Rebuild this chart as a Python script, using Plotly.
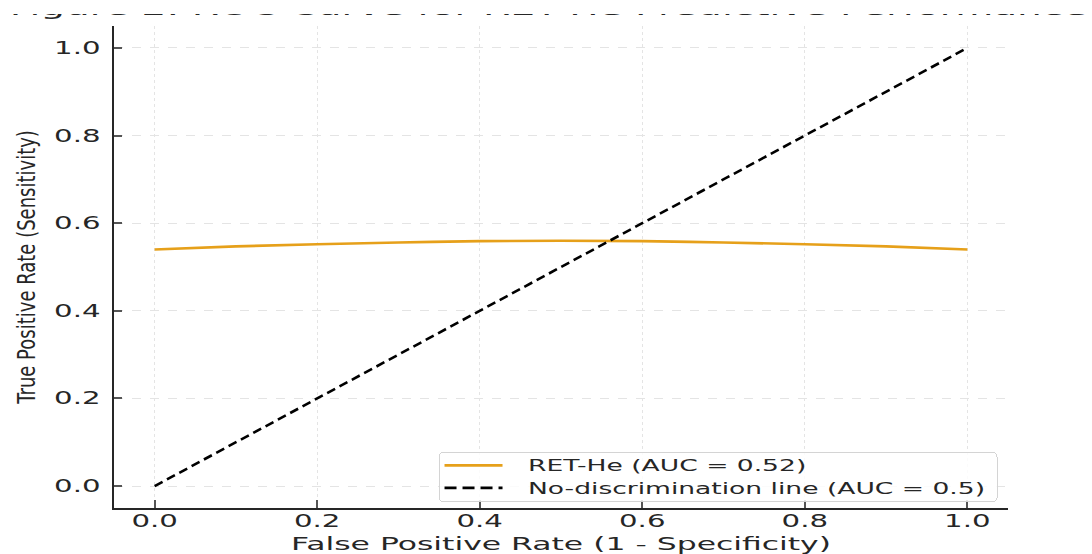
import plotly.graph_objects as go

# ---- data ----
fpr_ret = [0.0, 0.1, 0.2, 0.3, 0.4, 0.5, 0.6, 0.7, 0.8, 0.9, 1.0]
tpr_ret = [0.540, 0.547, 0.552, 0.556, 0.559, 0.560, 0.559, 0.556, 0.552, 0.547, 0.540]
ref_x = [0.0, 1.0]
ref_y = [0.0, 1.0]
tick_vals = [0.0, 0.2, 0.4, 0.6, 0.8, 1.0]
tick_text = ["0.0", "0.2", "0.4", "0.6", "0.8", "1.0"]
ret_label = "RET-He (AUC = 0.52)"
ref_label = "No-discrimination line (AUC = 0.5)"
title_text = "Figure 2: ROC Curve for RET-He Predictive Performance"
x_title = "False Positive Rate (1 - Specificity)"
y_title = "True Positive Rate (Sensitivity)"

FONT = "DejaVu Sans"
DARK = "#262626"

fig = go.Figure()
fig.add_trace(go.Scatter(x=fpr_ret, y=tpr_ret, mode="lines", name=ret_label,
                         line=dict(color="#E6A01A", width=2.6, shape="spline")))
fig.add_trace(go.Scatter(x=ref_x, y=ref_y, mode="lines", name=ref_label,
                         line=dict(color="black", width=2.6, dash="9px,5px")))

axis_common = dict(
    range=[-0.05, 1.05], tickvals=tick_vals, ticktext=tick_text,
    showline=True, linecolor=DARK, linewidth=2, mirror=False,
    ticks="inside", ticklen=8, tickwidth=1.5, tickcolor="#555555",
    showgrid=True, gridcolor="#e4e4e4", gridwidth=1, automargin=False,
    zeroline=False, tickfont=dict(family=FONT, size=17, color=DARK),
)

fig.update_layout(
    width=1092, height=554,
    margin=dict(l=114, r=84, t=26, b=46),
    plot_bgcolor="white", paper_bgcolor="white",
    font=dict(family=FONT, color=DARK),
    xaxis=dict(**axis_common, griddash="dot", ticklabelstandoff=-3,
               title=dict(text=x_title, font=dict(family=FONT, size=17, color=DARK), standoff=9)),
    yaxis=dict(**axis_common, griddash="dash", ticklabelstandoff=8,
               title=dict(text=y_title, font=dict(family=FONT, size=18, color=DARK), standoff=36)),
    legend=dict(x=0.363, y=0.006, xanchor="left", yanchor="bottom",
                bgcolor="rgba(255,255,255,0.85)", bordercolor="#d4d4d4", borderwidth=1,
                font=dict(family=FONT, size=15, color=DARK), tracegroupgap=0),
    annotations=[
        dict(text=title_text, xref="paper", yref="paper", x=(548 - 114) / 894, y=1.0083,
             xanchor="center", yanchor="bottom", showarrow=False,
             font=dict(family=FONT, size=22, color=DARK)),
    ],
)

post = r"""
(function(){
  document.body.style.margin = '0';
  var gd = document.getElementById('{plot_id}');
  var q = function(s, root){ return Array.prototype.slice.call((root || gd).querySelectorAll(s)); };
  function stretchOne(t, sx, sy, anchor){
    var b; try { b = t.getBBox(); } catch(e) { return; }
    var a = anchor || t.getAttribute('text-anchor') || 'middle';
    var cx = a === 'start' ? b.x : (a === 'end' ? b.x + b.width : b.x + b.width / 2);
    var cy = b.y + b.height / 2;
    var tr = t.getAttribute('transform') || '';
    t.setAttribute('transform', tr + ' translate(' + cx + ',' + cy + ') scale(' + sx + ',' + sy + ') translate(' + (-cx) + ',' + (-cy) + ')');
  }
  function stretch(nodes, sx, sy){ nodes.forEach(function(t){ stretchOne(t, sx, sy); }); }
  try {
    stretch(q('.xtick text'), 1.72, 1);
    stretch(q('.ytick text'), 1.72, 1);
    stretch(q('.g-xtitle text'), 1.85, 1);
    stretch(q('.g-ytitle text'), 1, 1.35);
  } catch(e) {}

  // title: stretch to the reference width, centred; the reference shows it clipped at the top edge
  try {
    var ann = q('.annotation');
    if (ann.length) {
      q('text', ann[0]).forEach(function(t){
        var w = t.getBBox().width;
        if (w > 0) stretchOne(t, 1078 / w, 1, 'middle');
      });
      var host = ann[0].parentNode;
      var r = document.createElementNS('http://www.w3.org/2000/svg', 'rect');
      r.setAttribute('x', 0); r.setAttribute('y', 0);
      r.setAttribute('width', 1092); r.setAttribute('height', 14);
      r.setAttribute('fill', '#ffffff');
      r.style.fill = '#ffffff';
      host.appendChild(r);
    }
  } catch(e) {}

  // legend: longer handles, stretched text, tighter wider box
  try {
    var leg = gd.querySelector('.legend');
    if (leg) {
      var bg = leg.querySelector('rect.bg');
      var sb = leg.querySelector('.scrollbox');
      if (sb) sb.removeAttribute('clip-path');
      var bgLeft = bg.getBoundingClientRect().left;
      var maxRight = 0;
      q('.traces', leg).forEach(function(tr){
        q('.legendlines path', tr).forEach(function(p){
          p.setAttribute('d', 'M5,0h58');
          var da = p.style.strokeDasharray;
          if (da && da !== 'none') { p.style.strokeDasharray = '12px, 6px'; }
        });
        var t = tr.querySelector('.legendtext');
        if (t) {
          stretchOne(t, 1.77, 1, 'start');
          var shift = (bgLeft + 89) - t.getBoundingClientRect().left;
          t.setAttribute('transform', 'translate(' + shift + ',0) ' + (t.getAttribute('transform') || ''));
          maxRight = Math.max(maxRight, t.getBoundingClientRect().right);
        }
      });
      bg.setAttribute('width', (maxRight - bgLeft + 12));
      var by = parseFloat(bg.getAttribute('y') || '0');
      var bh = parseFloat(bg.getAttribute('height') || '0');
      bg.setAttribute('y', by + 4);
      bg.setAttribute('height', bh - 7);
      bg.setAttribute('rx', 4); bg.setAttribute('ry', 4);
    }
  } catch(e) {}
})();
"""

fig.write_html("out.html", post_script=post, config={"displayModeBar": False})
